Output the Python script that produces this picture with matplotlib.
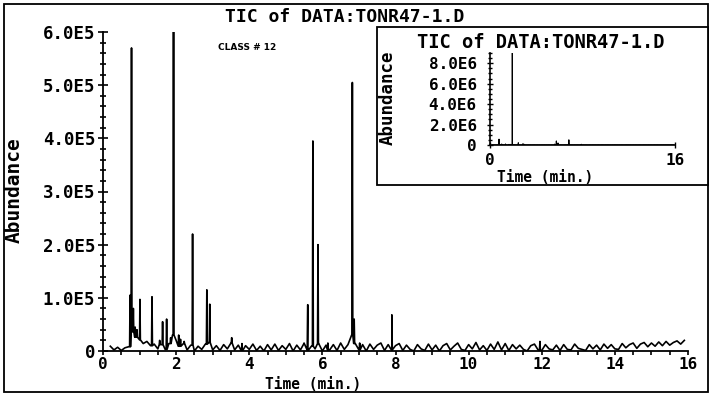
import matplotlib
matplotlib.use('Agg')
import matplotlib.pyplot as plt
from matplotlib.patches import Rectangle
from matplotlib.ticker import MultipleLocator

# baseline readings, one every 0.1 min from 0.2 to 15.9 (abundance, thousands)
base_start = 0.2
base_step = 0.1
base_k = [
    9, 2, 7, 1, 6, 8, 36, 26, 21, 14, 18, 10, 13, 4, 12, 3, 14, 30, 20, 9,
    14, 2, 11, 0, 9, 3, 13, 16, 2, 10, 1, 12, 4, 15, 2, 11, 0, 10, 3, 13,
    1, 9, 0, 12, 2, 13, 1, 10, 3, 14, 0, 11, 2, 13, 1, 9, 4, 14, 0, 11,
    2, 12, 1, 15, 3, 12, 30, 14, 2, 12, 0, 13, 3, 11, 15, 1, 12, 2, 10, 14,
    1, 11, 3, 0, 12, 4, 1, 13, 2, 11, 0, 10, 14, 2, 9, 15, 3, 1, 12, 4,
    16, 2, 10, 1, 13, 3, 17, 2, 14, 1, 12, 4, 11, 3, 0, 10, 13, 2, 1, 12,
    4, 2, 11, 1, 12, 3, 2, 13, 5, 3, 1, 12, 4, 11, 2, 13, 5, 12, 4, 3,
    14, 6, 12, 15, 5, 13, 16, 8, 15, 9, 17, 10, 18, 11, 16, 19, 13, 20,
]

# peak retention times (min) and apex abundances
peak_rt = [0.74, 0.78, 0.83, 0.88, 0.93, 1.01, 1.34, 1.55, 1.63, 1.74, 1.85,
           1.93, 2.07, 2.12, 2.22, 2.45, 2.84, 2.92, 3.52, 3.80, 5.50, 5.60,
           5.74, 5.88, 6.15, 6.82, 6.87, 7.02, 7.90, 11.95]
peak_height = [105e3, 570e3, 80e3, 45e3, 40e3, 97e3, 102e3, 20e3, 55e3, 60e3, 25e3,
               9.0e6, 30e3, 22e3, 18e3, 220e3, 115e3, 88e3, 25e3, 14e3, 15e3, 87e3,
               395e3, 200e3, 15e3, 505e3, 60e3, 15e3, 68e3, 18e3]

main_yticks = [0, 1e5, 2e5, 3e5, 4e5, 5e5, 6e5]
main_ylabels = ['0', '1.0E5', '2.0E5', '3.0E5', '4.0E5', '5.0E5', '6.0E5']
main_xticks = [0, 2, 4, 6, 8, 10, 12, 14, 16]
inset_yticks = [0, 2e6, 4e6, 6e6, 8e6]
inset_ylabels = ['0', '2.0E6', '4.0E6', '6.0E6', '8.0E6']
inset_xticks = [0, 16]

title = 'TIC of DATA:TONR47-1.D'

# build the trace: baseline points plus a narrow spike for every peak
pts = [(base_start + i * base_step, v * 1e3) for i, v in enumerate(base_k)]
half = 0.012
for rt, h in zip(peak_rt, peak_height):
    i = int(round((rt - base_start) / base_step))
    i = min(max(i, 0), len(base_k) - 1)
    b = base_k[i] * 1e3
    pts += [(rt - half, b), (rt, h), (rt + half, b)]
pts.sort()
t = [p[0] for p in pts]
a = [p[1] for p in pts]

mono = 'DejaVu Sans Mono'
fig = plt.figure(figsize=(7.12, 3.95), dpi=100)
W, H = 712, 395

def fx(px):
    return px / W

def fy(py):
    return 1 - py / H

# outer frame
fig.patches.append(Rectangle((fx(4), fy(392)), fx(704), 388 / H, transform=fig.transFigure,
                             fill=False, lw=1.3, ec='black'))

ax = fig.add_axes([fx(103), fy(351), fx(688 - 103), (351 - 32) / H])
ax.plot(t, a, color='black', lw=1.2)
ax.set_xlim(0, 16)
ax.set_ylim(0, 6e5)
for s in ['top', 'right']:
    ax.spines[s].set_visible(False)
ax.spines['left'].set_linewidth(1.3)
ax.spines['bottom'].set_linewidth(1.3)
ax.set_yticks(main_yticks)
ax.set_yticklabels(main_ylabels)
ax.set_xticks(main_xticks)
ax.yaxis.set_minor_locator(MultipleLocator(2e4))
ax.xaxis.set_minor_locator(MultipleLocator(0.5))
ax.tick_params(axis='y', which='major', direction='inout', length=7, width=1.2, pad=2)
ax.tick_params(axis='y', which='minor', direction='inout', length=4, width=1.2)
ax.tick_params(axis='x', which='major', direction='out', length=3, width=1.2, pad=1)
ax.tick_params(axis='x', which='minor', direction='out', length=3, width=1.2)
for lab in ax.get_yticklabels():
    lab.set_fontfamily(mono)
    lab.set_fontsize(12.5)
    lab.set_fontweight('bold')
for lab in ax.get_xticklabels():
    lab.set_fontfamily(mono)
    lab.set_fontsize(11.5)
    lab.set_fontweight('bold')

fig.text(fx(345), fy(17), title, family=mono, fontsize=13, fontweight='bold',
         ha='center', va='center')
fig.text(fx(247), fy(47), 'CLASS # 12', family='DejaVu Sans', fontsize=6.5,
         fontweight='bold', ha='center', va='center')
fig.text(fx(14), fy(190), 'Abundance', family=mono, fontsize=14, fontweight='bold',
         rotation=90, ha='center', va='center')
fig.text(fx(313), fy(384.5), 'Time (min.)', family=mono, fontsize=10.5, fontweight='bold',
         ha='center', va='center')

# inset box and axes
fig.patches.append(Rectangle((fx(377), fy(185)), fx(708 - 377), (185 - 27) / H,
                             transform=fig.transFigure, fill=True, fc='white',
                             lw=1.3, ec='black', zorder=5))
ins = fig.add_axes([fx(490), fy(145), fx(675 - 490), (145 - 53) / H])
ins.set_zorder(10)
ins.patch.set_alpha(0)
ins.plot(t, a, color='black', lw=0.8)
ins.set_xlim(0, 16)
ins.set_ylim(0, 9.0e6)
for s in ['top', 'right']:
    ins.spines[s].set_visible(False)
ins.spines['left'].set_linewidth(1.2)
ins.spines['bottom'].set_linewidth(1.2)
ins.set_yticks(inset_yticks)
ins.set_yticklabels(inset_ylabels)
ins.set_xticks(inset_xticks)
ins.yaxis.set_minor_locator(MultipleLocator(5e5))
ins.tick_params(axis='y', which='major', direction='inout', length=5, width=1, pad=7)
ins.tick_params(axis='y', which='minor', direction='inout', length=3, width=1)
ins.tick_params(axis='x', which='major', direction='inout', length=5, width=1, pad=3)
for lab in ins.get_xticklabels() + ins.get_yticklabels():
    lab.set_fontfamily(mono)
    lab.set_fontsize(11.5)
    lab.set_fontweight('bold')

fig.text(fx(541), fy(42), title, family=mono, fontsize=13.5, fontweight='bold',
         ha='center', va='center', zorder=11)
fig.text(fx(388), fy(98), 'Abundance', family=mono, fontsize=12.5, fontweight='bold',
         rotation=90, ha='center', va='center', zorder=11)
fig.text(fx(545), fy(178), 'Time (min.)', family=mono, fontsize=10.5, fontweight='bold',
         ha='center', va='center', zorder=11)

fig.savefig('out.png', dpi=100)
